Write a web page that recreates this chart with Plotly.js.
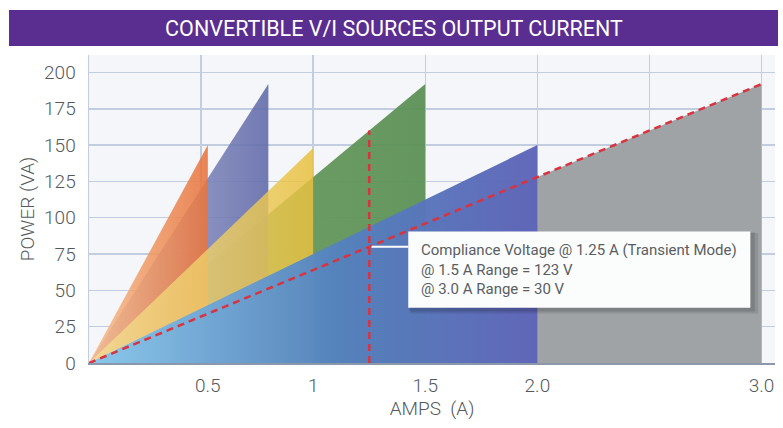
<!DOCTYPE html>
<html>
<head>
<meta charset="utf-8">
<script src="https://cdn.plot.ly/plotly-3.0.1.min.js"></script>
<style>
  html, body { margin: 0; padding: 0; background: #ffffff; }
  #chart { width: 783px; height: 428px; }
</style>
</head>
<body>
<div id="chart"></div>
<script>
// ---- data ----
const chartTitle = 'CONVERTIBLE V/I SOURCES OUTPUT CURRENT';
const seriesNames = ['3.0 A range', '1.5 A range', '0.8 A range', '0.5 A range', '1.0 A range', '2.0 A range'];
const maxAmps  = [3.0, 1.5, 0.8, 0.53, 1.0, 2.0];
const maxPower = [192, 192, 192, 150, 148, 150];
const complianceAmps  = [0, 3.0];
const compliancePower = [0, 192];
const transientAmps  = [1.25, 1.25];
const transientPower = [0, 160];
const xTickVals = [0.53, 1, 1.5, 2, 3];
const xTickText = ['0.5', '1', '1.5', '2.0', '3.0'];
const yTickVals = [0, 25, 50, 75, 100, 125, 150, 175, 200];
const noteLines = ['Compliance Voltage @ 1.25 A (Transient Mode)', '@ 1.5 A Range = 123 V', '@ 3.0 A Range = 30 V'];
const notePointAmps = 1.25;
const notePointPower = 80;

// ---- styles ----
const fills = [
  [[0, 'rgba(160,163,166,1)'], [1, 'rgba(160,163,166,1)']],
  [[0, 'rgba(110,160,100,0.95)'], [1, 'rgba(92,145,86,0.95)']],
  [[0, 'rgba(170,172,210,0.85)'], [1, 'rgba(98,108,170,0.9)']],
  [[0, 'rgba(248,190,140,0.85)'], [1, 'rgba(232,116,62,0.88)']],
  [[0, 'rgba(245,225,150,0.75)'], [1, 'rgba(232,192,62,0.85)']],
  [[0, 'rgba(135,200,238,0.97)'], [0.55, 'rgba(84,130,190,0.97)'], [1, 'rgba(94,100,184,0.97)']]
];

const traces = seriesNames.map((n, i) => ({
  type: 'scatter', mode: 'lines', name: n,
  x: [0, maxAmps[i], maxAmps[i], 0],
  y: [0, maxPower[i], 0, 0],
  fill: 'toself',
  fillgradient: { type: 'horizontal', colorscale: fills[i], start: 0, stop: maxAmps[i] },
  line: { width: 0 },
  hoverinfo: 'skip', showlegend: false
}));

traces.push({
  type: 'scatter', mode: 'lines', x: complianceAmps, y: compliancePower,
  line: { color: '#d8333f', width: 2.5, dash: '7px,5px' }, hoverinfo: 'skip', showlegend: false
});
traces.push({
  type: 'scatter', mode: 'lines', x: transientAmps, y: transientPower,
  line: { color: '#d8333f', width: 2.5, dash: '7px,5px' }, hoverinfo: 'skip', showlegend: false
});

const boxX0 = 1.424, boxX1 = 2.95, boxY0 = 38, boxY1 = 90.5;

const shapes = [
  { type: 'rect', xref: 'paper', yref: 'paper', x0: -0.1166, x1: 1.0044, y0: 1.029, y1: 1.146,
    fillcolor: '#5a2e90', line: { width: 0 }, layer: 'above' },
  // shadow
  { type: 'rect', xref: 'x', yref: 'y', x0: boxX0 + 0.01, x1: boxX1 + 0.035, y0: boxY0 - 4, y1: boxY1 - 1,
    fillcolor: 'rgba(0,0,0,0.10)', line: { width: 0 }, layer: 'above' },
  { type: 'rect', xref: 'x', yref: 'y', x0: boxX0 + 0.005, x1: boxX1 + 0.02, y0: boxY0 - 2.5, y1: boxY1 - 0.5,
    fillcolor: 'rgba(0,0,0,0.12)', line: { width: 0 }, layer: 'above' },
  { type: 'rect', xref: 'x', yref: 'y', x0: boxX0, x1: boxX1, y0: boxY0, y1: boxY1,
    fillcolor: '#fbfcfc', line: { width: 0 }, layer: 'above' },
  { type: 'line', xref: 'x', yref: 'y', x0: notePointAmps + 0.01, x1: boxX0, y0: notePointPower, y1: notePointPower,
    line: { color: '#ffffff', width: 2 }, layer: 'above' }
];

const layout = {
  width: 783, height: 428,
  margin: { l: 89, r: 8, t: 55, b: 65 },
  paper_bgcolor: '#ffffff',
  plot_bgcolor: '#f4f6f9',
  font: { family: 'Roboto, "DejaVu Sans", sans-serif', color: '#555a5e', size: 17 },
  title: {
    text: chartTitle,
    font: { family: 'Roboto, sans-serif', size: 21.5, color: '#ffffff', weight: 400 },
    x: 394 / 783, xref: 'container', xanchor: 'center',
    y: 1 - 28 / 428, yref: 'container', yanchor: 'middle'
  },
  xaxis: {
    range: [0, 3.06], tickvals: xTickVals, ticktext: xTickText,
    showgrid: false, zeroline: false,
    minor: { tick0: 0, dtick: 0.5, showgrid: true, gridcolor: '#c2cddf', gridwidth: 1.5, ticks: '' },
    showline: true, linecolor: '#8b97ab', linewidth: 2,
    ticks: '', ticklabelstandoff: 4,
    tickfont: { size: 19, color: '#55595d', weight: 300 },
    title: { text: 'AMPS\u00a0 (A)', font: { size: 19, color: '#55595d', weight: 300 }, standoff: 6 }
  },
  yaxis: {
    range: [0, 212], tickvals: yTickVals,
    showgrid: true, gridcolor: '#c2cddf', gridwidth: 1.5, zeroline: false,
    showline: true, linecolor: '#c2cddf', linewidth: 1.5,
    ticks: '', ticklabelstandoff: 8,
    tickfont: { size: 19, color: '#55595d', weight: 300 },
    title: { text: 'POWER (VA)', font: { size: 19, color: '#55595d', weight: 300 }, standoff: 4 }
  },
  shapes: shapes,
  annotations: [{
    xref: 'x', yref: 'y', x: boxX0 + 0.05, y: (boxY0 + boxY1) / 2,
    xanchor: 'left', yanchor: 'middle', align: 'left', showarrow: false,
    text: noteLines.join('<br>'),
    font: { size: 15, color: '#5a5e62', family: 'Roboto, sans-serif' }
  }],
  showlegend: false
};

Plotly.newPlot('chart', traces, layout, { displayModeBar: false, staticPlot: true });
</script>
</body>
</html>
